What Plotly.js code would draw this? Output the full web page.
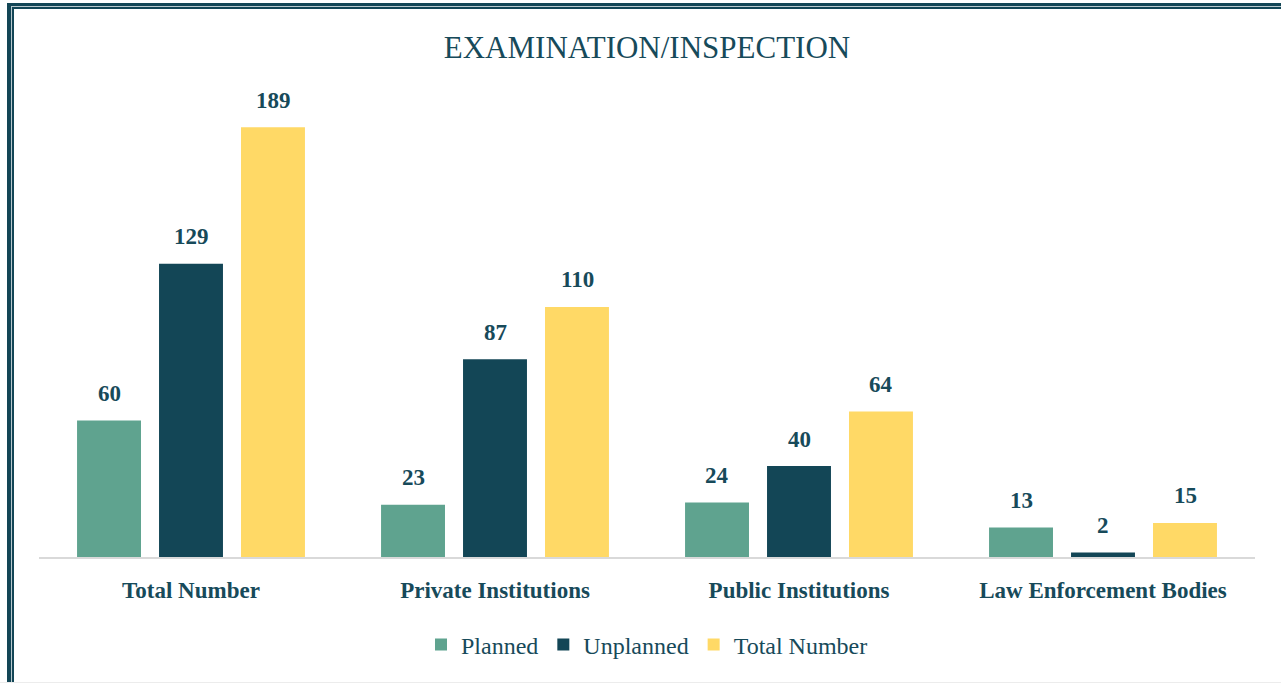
<!DOCTYPE html>
<html>
<head>
<meta charset="utf-8">
<script src="https://cdn.plot.ly/plotly-3.0.1.min.js"></script>
<style>
html,body{margin:0;padding:0;background:#fff;overflow:hidden;}
#wrap{position:relative;width:1281px;height:683px;}
#chart{position:absolute;left:0;top:0;width:1281px;height:683px;}
#b1{position:absolute;left:7px;top:3px;width:1290px;height:700px;border-left:4px solid #134656;border-top:3px solid #134656;pointer-events:none;box-sizing:border-box;}
#b2{position:absolute;left:11px;top:6px;width:1290px;height:700px;border-left:1px solid #b9c9ce;border-top:1px solid #b9c9ce;pointer-events:none;box-sizing:border-box;}
#b3{position:absolute;left:12px;top:7px;width:1290px;height:700px;border-left:2px solid #134656;border-top:2px solid #134656;pointer-events:none;box-sizing:border-box;}
#b4{position:absolute;left:0;top:682px;width:1281px;height:1px;background:#ececec;pointer-events:none;}
</style>
</head>
<body>
<div id="wrap">
<div id="chart"></div>
<div id="b1"></div><div id="b2"></div><div id="b3"></div><div id="b4"></div>
</div>
<script>
const categories = ["Total Number", "Private Institutions", "Public Institutions", "Law Enforcement Bodies"];
const seriesNames = ["Planned", "Unplanned", "Total Number"];
const planned = [60, 23, 24, 13];
const unplanned = [129, 87, 40, 2];
const totalNumber = [189, 110, 64, 15];

const colors = ["#5fa38f", "#134656", "#ffd966"];
const textColor = "#174a5a";
const fontFam = "Liberation Serif";
const seriesValues = [planned, unplanned, totalNumber];

const traces = seriesValues.map((vals, i) => ({
  type: "bar",
  name: seriesNames[i],
  x: categories,
  y: vals,
  marker: {color: colors[i]},
  hoverinfo: "x+y+name"
}));

const slotPx = 82;
const annotations = [];
seriesValues.forEach((vals, i) => {
  vals.forEach((v, k) => {
    annotations.push({
      x: categories[k], y: v, xref: "x", yref: "y",
      text: "<b>" + v + "</b>", showarrow: false,
      xshift: (i - 1) * slotPx, yshift: 27, yanchor: "middle",
      font: {family: fontFam, size: 23, color: textColor}
    });
  });
});

const layout = {
  width: 1281, height: 683,
  margin: {l: 39, r: 26, t: 100, b: 126},
  font: {family: fontFam, color: textColor, size: 24},
  paper_bgcolor: "#ffffff", plot_bgcolor: "#ffffff",
  title: {text: "EXAMINATION/INSPECTION", x: 0.5, xanchor: "center", y: 0.931, yanchor: "middle",
          xref: "paper",
          font: {family: fontFam, size: 31, color: textColor}},
  barmode: "group",
  bargap: 0.191,
  bargroupgap: 0.22,
  xaxis: {type: "category", showgrid: false, zeroline: false, showline: true,
          linecolor: "#d9d9d9", linewidth: 2, ticks: "", ticklabelstandoff: 11,
          tickfont: {family: fontFam, size: 23, color: textColor, weight: "bold"}},
  yaxis: {range: [0, 201], visible: false, showgrid: false, zeroline: false, fixedrange: true},
  showlegend: true,
  legend: {orientation: "h", x: 0.5, xanchor: "center", y: -0.1926, yanchor: "middle",
           font: {family: fontFam, size: 24, color: textColor}, itemwidth: 30,
           tracegroupgap: 0},
  annotations: annotations
};

Plotly.newPlot("chart", traces, layout, {displayModeBar: false, staticPlot: true});
</script>
</body>
</html>
